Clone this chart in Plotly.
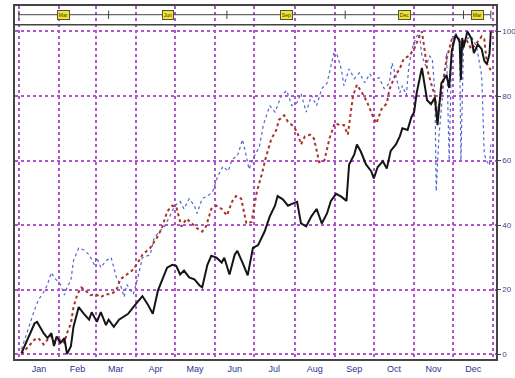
import pandas as pd
import plotly.graph_objects as go

YEAR_START = pd.Timestamp("2023-01-01")

# ---- data (day-of-year offsets and values) ----
black_days = [2, 12, 14, 17, 19, 22, 25, 27, 29, 32, 35, 37, 40, 42, 46, 50, 54, 56, 60, 63,
              67, 69, 73, 77, 81, 84, 88, 92, 95, 99, 103, 107, 111, 114, 118, 121, 124, 127,
              131, 135, 139, 141, 145, 148, 152, 156, 158, 162, 166, 168, 172, 176, 180, 184,
              189, 193, 197, 199, 203, 207, 210, 214, 217, 221, 225, 229, 233, 237, 240, 244,
              248, 252, 254, 258, 260, 263, 267, 271, 273, 276, 280, 283, 286, 290, 293, 295,
              299, 302, 304, 306, 310, 312, 314, 317, 320, 322, 325, 329, 331, 333, 335, 336,
              339, 340, 341, 342, 345, 348, 350, 353, 356, 358, 360, 362, 363]
black_vals = [0.3, 9.5, 10, 8, 6.5, 5, 6.5, 2.5, 5.5, 3.5, 5, 0, 2.5, 8.5, 14.6, 12.5, 10.7, 13, 10, 13,
              9, 10.7, 8.5, 10.7, 11.6, 12.5, 14.6, 16.5, 18, 15.5, 12.5, 19.8, 23.8, 26.8, 27.7, 27.4, 24.7, 25.9,
              23.8, 23.2, 21.3, 20.7, 27.7, 30.5, 29.9, 28.4, 29.9, 24.7, 30.8, 32, 28.4, 24.4, 32.9, 33.8,
              38, 42.7, 46, 49, 48, 46, 46.6, 47.2, 40.5, 39.6, 42.7, 45, 40.5, 43.6, 47.5, 49.7,
              48.8, 47.5, 58.8, 61.9, 65, 62.8, 58.8, 56.7, 54.5, 58, 59.8, 57.5, 63, 65, 67.5, 70,
              69.5, 73.5, 75, 81, 88.7, 83, 78.7, 77.5, 79.5, 71, 84, 86.5, 82.5, 94, 98, 99,
              97, 85, 98, 95, 100, 97.9, 93.3, 96, 94.5, 90.9, 89.9, 93, 100]

red_days = [2, 8, 12, 15, 19, 22, 25, 28, 32, 35, 37, 40, 42, 45, 48, 51, 55, 59, 63, 67,
            71, 75, 78, 83, 87, 91, 95, 101, 106, 110, 114, 118, 121, 125, 129, 133, 137, 141,
            144, 148, 152, 156, 160, 164, 167, 171, 175, 179, 183, 187, 190, 194, 198, 200, 204,
            207, 210, 214, 217, 220, 224, 227, 231, 235, 239, 243, 247, 250, 253, 257, 260, 264,
            268, 272, 275, 279, 283, 285, 289, 293, 296, 300, 304, 308, 310, 312, 314, 317, 320,
            322, 325, 329, 333, 336, 340, 344, 348, 352, 356, 358, 360, 363]
red_vals = [0, 2.5, 4.5, 5, 3, 4.5, 5.5, 3.5, 4.5, 3.5, 6.5, 9.5, 14.6, 18.6, 20.7, 19.8, 18.3, 18.6, 17.7, 18.6,
            18.6, 19.8, 23.2, 24.7, 25.9, 28, 30.8, 32.9, 36, 39, 44.2, 46, 45.7, 39.6, 42, 40.5, 39, 38,
            39.6, 45, 46, 45, 43, 47.3, 49, 48.2, 40.5, 41, 50.3, 56, 61, 66.5, 69.5, 72.6, 74,
            72, 71, 69, 65, 67.5, 68, 66.8, 59.5, 60, 67, 71.6, 71, 71, 68, 80, 83.5, 81,
            78, 74, 71.5, 76, 77.7, 82, 86, 88.5, 91.5, 92.4, 94.5, 98.5, 100, 94.5, 88.4, 84, 80,
            74, 82, 91.5, 97.6, 98.5, 96.3, 97.6, 94.5, 96.3, 98.5, 97.6, 90, 88]

blue_days = [2, 6, 9, 12, 15, 19, 22, 25, 27, 29, 32, 35, 37, 40, 42, 46, 50, 54, 58, 60,
             63, 67, 71, 73, 75, 78, 81, 83, 86, 88, 91, 93, 95, 101, 104, 108, 112, 116, 120,
             124, 127, 131, 135, 137, 141, 145, 149, 153, 157, 161, 164, 168, 172, 175, 177, 181,
             185, 188, 193, 197, 202, 206, 210, 214, 217, 221, 225, 229, 233, 237, 240, 243, 245,
             248, 250, 254, 258, 262, 266, 270, 273, 277, 281, 285, 287, 290, 293, 295, 298, 300,
             303, 306, 308, 310, 313, 316, 318, 320, 321, 323, 326, 329, 331, 333, 336, 339, 340,
             342, 344, 348, 352, 356, 358, 360, 362, 363]
blue_vals = [1.5, 6.5, 10.7, 13.7, 16.8, 19.2, 21.6, 25.3, 23.8, 22.9, 21.6, 18.3, 20.7, 22.9, 29, 32.9, 32.3, 30.8, 27.7, 29.9,
             26.8, 29, 29.9, 26.8, 23.8, 21.6, 17.7, 21.6, 19.8, 18.6, 22.9, 27, 29.9, 30.8, 36, 38, 39.6, 42.7, 46,
             47.3, 45, 48.2, 46, 43.6, 48.2, 49, 50.3, 55.2, 58.2, 56.7, 60.4, 61.3, 66.5, 61.3, 57.3, 61.3,
             64.3, 71, 77, 75, 80.2, 81.7, 77, 78, 80.8, 75, 80.2, 77, 82.3, 84, 89.3, 94.5, 92.4,
             88.4, 83.2, 88.4, 85.4, 87.2, 84.1, 86.9, 84.8, 85.7, 82.3, 84, 90.2, 86.3, 81, 83.2, 80.2, 89.3,
             95.4, 98.5, 99.4, 92.4, 89.3, 92.4, 91.5, 81, 50.5, 67, 81, 93.3, 60, 95.4, 99.4, 97.6, 60,
             96, 97.6, 98.5, 95.4, 86.3, 61.9, 59.8, 58.5, 65]

y_ticks = [0, 20, 40, 60, 80, 100]

# top band: segment boundaries (day offsets) and labels
band_bounds = [0, 69, 160, 251, 342, 363]
band_labels = ["Mar", "Jun", "Sep", "Dec", "Mar"]


def to_dates(days):
    return [YEAR_START + pd.Timedelta(days=d) for d in days]


fig = go.Figure()
fig.add_trace(go.Scatter(x=to_dates(blue_days), y=blue_vals, mode="lines",
                         line=dict(color="#5566cc", width=1.2, dash="dot")))
fig.add_trace(go.Scatter(x=to_dates(red_days), y=red_vals, mode="lines",
                         line=dict(color="#a8342a", width=2, dash="dot")))
fig.add_trace(go.Scatter(x=to_dates(black_days), y=black_vals, mode="lines",
                         line=dict(color="#151515", width=2)))

Y_TOP = 107.9
Y_BOT = -1.5
BAND_LINE = 105.2
BAND_BOTTOM = 102.1

shapes = []
shapes.append(dict(type="line", xref="paper", yref="y", x0=0, x1=1, y0=BAND_BOTTOM, y1=BAND_BOTTOM,
                   line=dict(color="#444444", width=1.5)))
bd = to_dates(band_bounds)
shapes.append(dict(type="line", xref="x", yref="y", x0=bd[0], x1=bd[-1], y0=BAND_LINE, y1=BAND_LINE,
                   line=dict(color="#444444", width=1)))
for d in bd:
    shapes.append(dict(type="line", xref="x", yref="y", x0=d, x1=d, y0=BAND_LINE - 1.3, y1=BAND_LINE + 1.3,
                       line=dict(color="#444444", width=1)))

annotations = []
for i, lab in enumerate(band_labels):
    mid = YEAR_START + pd.Timedelta(days=(band_bounds[i] + band_bounds[i + 1]) / 2)
    annotations.append(dict(x=mid, y=BAND_LINE, xref="x", yref="y", text=lab, showarrow=False,
                            font=dict(size=5, color="#333300", family="Liberation Sans"),
                            bgcolor="#f2e33a", bordercolor="#555533", borderwidth=1, borderpad=0.8))

fig.update_layout(
    width=515, height=378,
    margin=dict(l=15, r=19, t=4, b=15),
    paper_bgcolor="white", plot_bgcolor="white",
    showlegend=False,
    shapes=shapes,
    annotations=annotations,
    xaxis=dict(
        type="date",
        range=[YEAR_START - pd.Timedelta(days=3), YEAR_START + pd.Timedelta(days=367)],
        dtick="M1", tick0="2023-01-01", tickformat="%b", ticklabelmode="period",
        showgrid=True, gridcolor="#b154d0", griddash="dot", gridwidth=1.5,
        showline=True, linecolor="#444444", linewidth=1.5, mirror=True,
        ticks="", zeroline=False,
        tickfont=dict(size=9, color="#2a3590", family="Liberation Sans"),
    ),
    yaxis=dict(
        range=[Y_BOT, Y_TOP], side="right",
        tickvals=y_ticks, ticktext=[str(v) for v in y_ticks],
        showgrid=True, gridcolor="#b154d0", griddash="dot", gridwidth=1.5,
        showline=True, linecolor="#444444", linewidth=1.5, mirror=True,
        ticks="outside", ticklen=3, tickcolor="#444444", zeroline=False,
        tickfont=dict(size=8, color="#3a4a8a", family="Liberation Sans"),
        automargin=False,
    ),
)

fig.write_html("out.html", config={"displayModeBar": False},
               post_script="document.body.style.margin='0';document.body.style.overflow='hidden';")
